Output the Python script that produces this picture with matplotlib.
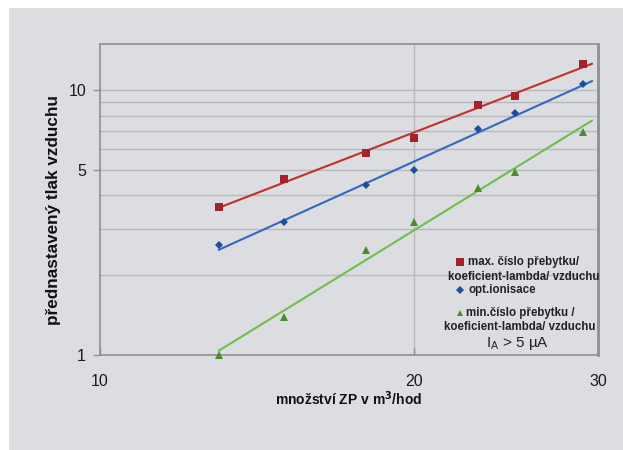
import numpy as np
import matplotlib
matplotlib.use("Agg")
import matplotlib.pyplot as plt

plt.rcParams['font.family'] = ['Liberation Sans', 'DejaVu Sans']

x_vals = [13, 15, 18, 20, 23, 25, 29]
max_vals = [3.61, 4.60, 5.80, 6.61, 8.76, 9.49, 12.5]
opt_vals = [2.60, 3.18, 4.39, 4.97, 7.11, 8.17, 10.5]
min_vals = [1.00, 1.39, 2.49, 3.18, 4.26, 4.89, 6.93]

x_ticks = [10, 20, 30]
y_ticks = [1, 5, 10]

W, H = 623, 450
fig = plt.figure(figsize=(W / 100, H / 100), dpi=100)
fig.patch.set_facecolor('white')
bg = fig.add_axes([9 / W, 0, 1 - 9 / W, 1 - 8 / H], zorder=-10)
bg.set_facecolor('#dcdde0')
bg.set_xticks([])
bg.set_yticks([])
for s in bg.spines.values():
    s.set_visible(False)

ax = fig.add_axes([100 / W, 1 - 355 / H, (598 - 100) / W, (355 - 44) / H])
ax.set_facecolor('#dcdde0')
ax.set_xscale('log')
ax.set_yscale('log')
ax.set_xlim(10, 30)
ax.set_ylim(1, 14.9)

# gridlines
for v in range(2, 11):
    ax.axhline(v, color='#b8b9bc', lw=1.0, zorder=1)
ax.axvline(20, color='#b8b9bc', lw=1.0, zorder=1)

series = [
    (max_vals, 's', '#a3222b', '#c0302f', 6),
    (opt_vals, 'D', '#1f4e9c', '#3468c0', 4),
    (min_vals, '^', '#4b8a2e', '#6cc04a', 6),
]
lx = np.log10(np.array(x_vals, dtype=float))
xs = np.linspace(13, 29.6, 50)
for vals, m, mc, lc, ms in series:
    ly = np.log10(np.array(vals, dtype=float))
    b, a = np.polyfit(lx, ly, 1)
    ax.plot(xs, 10 ** (a + b * np.log10(xs)), color=lc, lw=1.5, zorder=3)
    ax.plot(x_vals, vals, linestyle='none', marker=m, color=mc, ms=ms,
            zorder=4, clip_on=False, markeredgewidth=0)

for s in ax.spines.values():
    s.set_color('#8e8f92')
    s.set_linewidth(1.2)
ax.spines['right'].set_linewidth(2.0)

ax.set_xticks(x_ticks)
ax.set_xticklabels([str(t) for t in x_ticks])
ax.set_yticks(y_ticks)
ax.set_yticklabels([str(t) for t in y_ticks])
ax.xaxis.set_minor_locator(matplotlib.ticker.NullLocator())
ax.yaxis.set_minor_locator(matplotlib.ticker.NullLocator())
ax.tick_params(axis='x', length=5, width=1, color='#8e8f92', pad=14, labelsize=11.5,
               direction='in', labelcolor='#1a1a1a')
ax.tick_params(axis='y', length=5, width=1, color='#8e8f92', pad=5, labelsize=11.5,
               labelcolor='#1a1a1a')

ax.set_xlabel("množství ZP v m$^\\mathbf{3}$/hod", fontsize=10, fontweight='bold',
              labelpad=0, color='#111111')
ax.set_ylabel("přednastavený tlak vzduchu", fontsize=12.3, fontweight='bold',
              color='#111111')
ax.yaxis.set_label_coords(-0.078, 0.466)

# legend (manual, inside lower right)
lfs = 8.3
ax.plot([0.723], [0.299], transform=ax.transAxes, marker='s', color='#a3222b', ms=6,
        markeredgewidth=0, clip_on=False)
ax.text(0.739, 0.299, "max. číslo přebytku/", transform=ax.transAxes, fontsize=lfs,
        fontweight='bold', va='center', ha='left', color='#222222')
ax.text(0.850, 0.251, "koeficient-lambda/ vzduchu", transform=ax.transAxes, fontsize=lfs,
        fontweight='bold', va='center', ha='center', color='#222222')
ax.plot([0.723], [0.209], transform=ax.transAxes, marker='D', color='#1f4e9c', ms=4,
        markeredgewidth=0, clip_on=False)
ax.text(0.739, 0.209, "opt.ionisace", transform=ax.transAxes, fontsize=lfs,
        fontweight='bold', va='center', ha='left', color='#222222')
ax.plot([0.723], [0.135], transform=ax.transAxes, marker='^', color='#4b8a2e', ms=5,
        markeredgewidth=0, clip_on=False)
ax.text(0.735, 0.135, "min.číslo přebytku /", transform=ax.transAxes, fontsize=lfs,
        fontweight='bold', va='center', ha='left', color='#222222')
ax.text(0.843, 0.089, "koeficient-lambda/ vzduchu", transform=ax.transAxes, fontsize=lfs,
        fontweight='bold', va='center', ha='center', color='#222222')
ax.text(0.839, 0.036, "I$_\\mathregular{A}$ > 5 µA", transform=ax.transAxes, fontsize=11,
        va='center', ha='center', color='#222222')

fig.savefig("out.png", dpi=100, facecolor=fig.get_facecolor())
